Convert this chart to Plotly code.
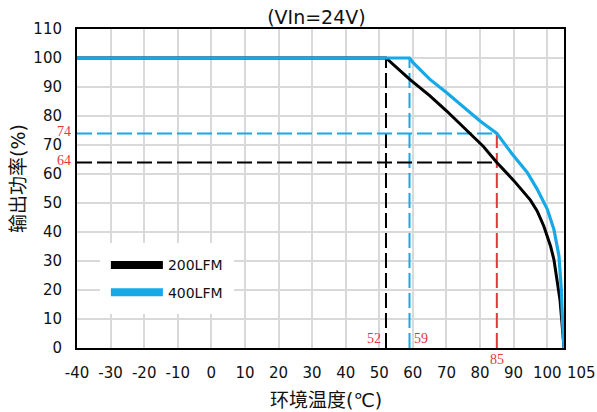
import plotly.graph_objects as go

# Derating curves: ambient temperature (°C) vs. output power (%)
temp_200 = [-40, 52, 59, 65, 70, 77, 81, 85, 90, 95, 97, 99, 101, 102, 103, 103.8, 104.4, 105]
power_200 = [100, 100, 92.7, 87, 81.8, 74, 69.5, 64, 57.8, 51, 47.3, 42, 35.1, 30.5, 23.6, 16.6, 8.6, 0]

temp_400 = [-40, 59, 60, 65, 70, 76, 80, 85, 89.5, 94, 97, 100, 102, 103.5, 104.2, 104.6, 105]
power_400 = [100, 100, 98.5, 92.7, 88.1, 82.4, 78.3, 74, 67, 60.6, 54.8, 47.9, 40.9, 31.7, 20.1, 8.6, 0]

# Reference points marked on the chart
knee_200 = 52
knee_400 = 59
ref_temp = 85
ref_power_200 = 64
ref_power_400 = 74

x_ticks = [-40, -30, -20, -10, 0, 10, 20, 30, 40, 50, 60, 70, 80, 90, 100]
x_end = 105
y_ticks = [0, 10, 20, 30, 40, 50, 60, 70, 80, 90, 100, 110]

BLACK = "#000000"
BLUE = "#17a8e6"
RED = "#e0383b"
FONT = "DejaVu Sans, Noto Sans CJK SC, sans-serif"
SERIF = "Liberation Serif, DejaVu Serif, serif"
DASH = "15px,5px"

fig = go.Figure()

# Dashed guide lines
guides = [
    ([knee_200, knee_200], [0, 100], BLACK),
    ([knee_400, knee_400], [0, 100], BLUE),
    ([-40, ref_temp], [ref_power_200, ref_power_200], BLACK),
    ([-40, ref_temp], [ref_power_400, ref_power_400], BLUE),
    ([ref_temp, ref_temp], [0, ref_power_400], RED),
]
for gx, gy, col in guides:
    fig.add_trace(go.Scatter(x=gx, y=gy, mode="lines", showlegend=False,
                             hoverinfo="skip",
                             line=dict(color=col, width=2, dash=DASH)))

# Derating curves
fig.add_trace(go.Scatter(x=temp_200, y=power_200, mode="lines", showlegend=False,
                         line=dict(color=BLACK, width=3)))
fig.add_trace(go.Scatter(x=temp_400, y=power_400, mode="lines", showlegend=False,
                         line=dict(color=BLUE, width=3.2)))

# Legend entries (thick swatches)
fig.add_trace(go.Scatter(x=[None], y=[None], mode="lines", name="200LFM",
                         legendgroup="a", line=dict(color=BLACK, width=8)))
fig.add_trace(go.Scatter(x=[None], y=[None], mode="lines", name="400LFM",
                         legendgroup="b", line=dict(color=BLUE, width=8)))

red_font = dict(family=SERIF, size=14, color=RED)
annotations = [
    dict(x=0, xref="paper", y=ref_power_400, yref="y", text=str(ref_power_400),
         xanchor="right", yanchor="middle", xshift=-4, yshift=2, showarrow=False,
         font=red_font),
    dict(x=0, xref="paper", y=ref_power_200, yref="y", text=str(ref_power_200),
         xanchor="right", yanchor="middle", xshift=-4, yshift=2, showarrow=False,
         font=red_font),
    dict(x=knee_200, y=0, text=str(knee_200), xanchor="right", yanchor="bottom",
         xshift=-3, yshift=0, showarrow=False, font=red_font),
    dict(x=knee_400, y=0, text=str(knee_400), xanchor="left", yanchor="bottom",
         xshift=2, yshift=0, showarrow=False, font=red_font),
    dict(x=ref_temp, y=0, text=str(ref_temp), xanchor="center", yanchor="top",
         yshift=-2, showarrow=False, font=red_font),
    # last x tick label sits just right of the axis end
    dict(x=x_end, y=0, text=str(x_end), xanchor="left", yanchor="middle",
         xshift=1, yshift=-25, showarrow=False,
         font=dict(family=FONT, size=15, color="#111111")),
    dict(x=0.511, xref="paper", y=-0.164, yref="paper", text="环境温度(℃)",
         xanchor="center", yanchor="middle", showarrow=False,
         font=dict(family=FONT, size=19, color="#111111")),
    dict(x=-0.121, xref="paper", y=0.53, yref="paper", text="输出功率(%)",
         textangle=-90, xanchor="center", yanchor="middle", showarrow=False,
         font=dict(family=FONT, size=19, color="#111111")),
]

fig.update_layout(
    width=597, height=412,
    margin=dict(l=77, r=33, t=29, b=64),
    paper_bgcolor="white", plot_bgcolor="white",
    font=dict(family=FONT, size=15, color="#111111"),
    title=dict(text="(VIn=24V)", x=0.53, xanchor="center",
               y=1 - 17 / 412, yanchor="middle",
               font=dict(family=FONT, size=19, color="#111111")),
    showlegend=True,
    legend=dict(x=0.047, y=0.328, xanchor="left", yanchor="top",
                bgcolor="white", bordercolor="white", borderwidth=6,
                itemwidth=52, tracegroupgap=6,
                font=dict(family=FONT, size=14, color="#111111"),
                itemclick=False),
    annotations=annotations,
)

fig.update_xaxes(range=[-40, x_end], tickvals=x_ticks,
                 ticktext=[str(v) for v in x_ticks],
                 showgrid=True, gridcolor="#d9d9d9", gridwidth=1.5,
                 showline=True, linecolor=BLACK, linewidth=2, mirror=True,
                 zeroline=False, ticks="", ticklabelstandoff=10, tickangle=0,
                 tickfont=dict(size=15))
fig.update_yaxes(range=[0, 110], tickvals=y_ticks,
                 showgrid=True, gridcolor="#d9d9d9", gridwidth=1.5,
                 showline=True, linecolor=BLACK, linewidth=2, mirror=True,
                 zeroline=False, ticks="", ticklabelstandoff=10,
                 tickfont=dict(size=15))

fig.write_html("out.html")
